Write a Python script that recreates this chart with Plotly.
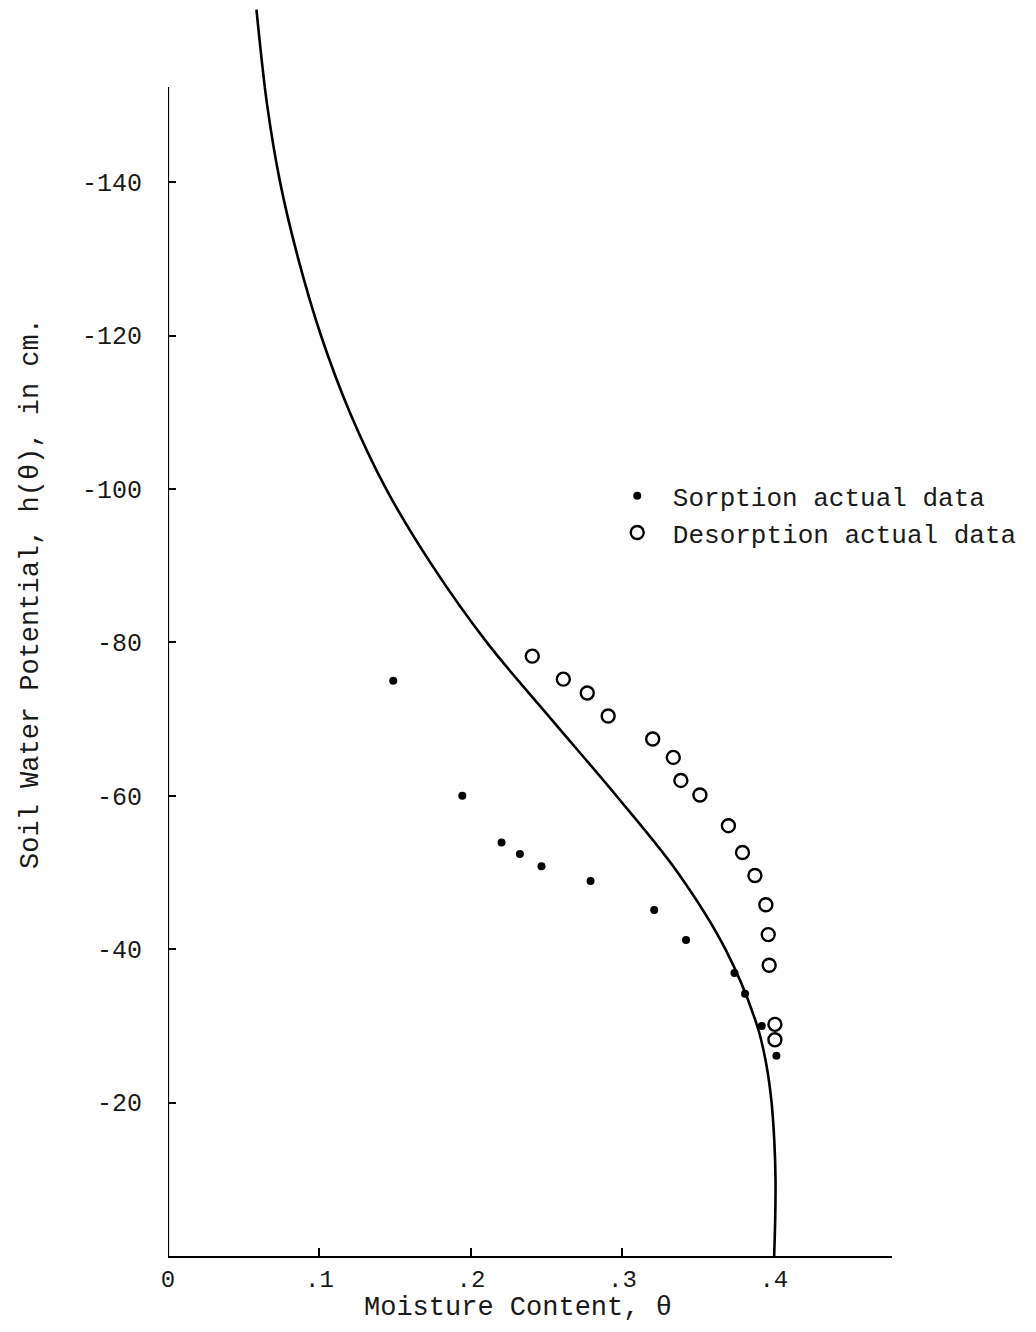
import plotly.graph_objects as go

# Fitted curve h(theta), h in cm (negative potential)
curve_theta = [0.0584, 0.0655, 0.0740, 0.0860, 0.1010, 0.1200, 0.1440, 0.1745, 0.2105,
               0.2530, 0.2960, 0.3365, 0.3680, 0.3890, 0.3950, 0.3985, 0.4003, 0.4011,
               0.4009, 0.4002]
curve_h = [-162.5, -150.0, -140.0, -130.0, -120.0, -110.0, -100.0, -90.0, -80.0,
           -70.0, -60.0, -50.0, -40.0, -30.0, -25.0, -20.0, -15.0, -10.0,
           -5.0, 0.0]

# Sorption actual data
sorp_theta = [0.1487, 0.1943, 0.2202, 0.2323, 0.2466, 0.279, 0.321, 0.342, 0.374, 0.381, 0.392, 0.4017]
sorp_h = [-75.0, -60.0, -53.9, -52.4, -50.8, -48.9, -45.1, -41.2, -36.9, -34.2, -30.0, -26.1]

# Desorption actual data
desorp_theta = [0.2405, 0.261, 0.2768, 0.2906, 0.320, 0.3336, 0.3386, 0.3512, 0.370,
                0.3793, 0.3875, 0.3947, 0.3963, 0.3969, 0.4007, 0.4007]
desorp_h = [-78.2, -75.2, -73.4, -70.4, -67.4, -65.0, -62.0, -60.1, -56.1,
            -52.6, -49.6, -45.8, -41.9, -37.9, -30.2, -28.2]

x_tickvals = [0, 0.1, 0.2, 0.3, 0.4]
x_ticktext = ["0", ".1", ".2", ".3", ".4"]
y_tickvals = [-20, -40, -60, -80, -100, -120, -140]
y_ticktext = ["-20", "-40", "-60", "-80", "-100", "-120", "-140"]

FONT = "Liberation Mono, Courier New, monospace"
INK = "#1a1a1a"

fig = go.Figure()
fig.add_trace(go.Scatter(x=curve_theta, y=curve_h, mode="lines",
                         line=dict(color="black", width=2.6, shape="spline", smoothing=1.0),
                         showlegend=False, cliponaxis=False))
fig.add_trace(go.Scatter(x=sorp_theta, y=sorp_h, mode="markers", name=" Sorption actual data",
                         marker=dict(symbol="circle", size=8, color="black")))
fig.add_trace(go.Scatter(x=desorp_theta, y=desorp_h, mode="markers", name=" Desorption actual data",
                         marker=dict(symbol="circle-open", size=13, color="black",
                                     line=dict(width=2.4, color="black"))))

# y-axis line (drawn only up to where the original axis ends)
fig.add_shape(type="line", xref="x", yref="y", x0=0, x1=0, y0=0, y1=-152.4,
              line=dict(color="black", width=2.2))

fig.update_layout(
    width=1020, height=1316,
    margin=dict(l=160, r=136, t=0, b=67.5, pad=0),
    paper_bgcolor="white", plot_bgcolor="white",
    font=dict(family=FONT, color=INK, size=26),
    showlegend=True,
    legend=dict(x=0.6205, y=0.628, xanchor="left", yanchor="top",
                font=dict(family=FONT, size=26, color=INK),
                bgcolor="rgba(0,0,0,0)", tracegroupgap=0, itemwidth=30),
    xaxis=dict(range=[0, 0.478], showline=True, linecolor="black", linewidth=2.2,
               showgrid=False, zeroline=False, tickmode="array",
               tickvals=x_tickvals, ticktext=x_ticktext, ticks="inside",
               ticklen=8, tickwidth=2, tickcolor="black",
               tickfont=dict(family=FONT, size=24, color=INK), ticklabelstandoff=0),
    yaxis=dict(range=[0, -162.7], showline=False, showgrid=False, zeroline=False,
               tickmode="array", tickvals=y_tickvals, ticktext=y_ticktext,
               ticks="inside", ticklen=8, tickwidth=2, tickcolor="black",
               tickfont=dict(family=FONT, size=25, color=INK), ticklabelstandoff=25),
    annotations=[
        dict(text="Moisture Content, θ", xref="paper", yref="paper", x=0.484, y=-0.0415,
             xanchor="center", yanchor="middle", showarrow=False,
             font=dict(family=FONT, size=27, color=INK)),
        dict(text="Soil Water Potential, h(θ), in cm.", xref="paper", yref="paper",
             x=-0.189, y=0.5306, xanchor="center", yanchor="middle", textangle=-90,
             showarrow=False, font=dict(family=FONT, size=27, color=INK)),
    ],
)

fig.write_html("out.html")
